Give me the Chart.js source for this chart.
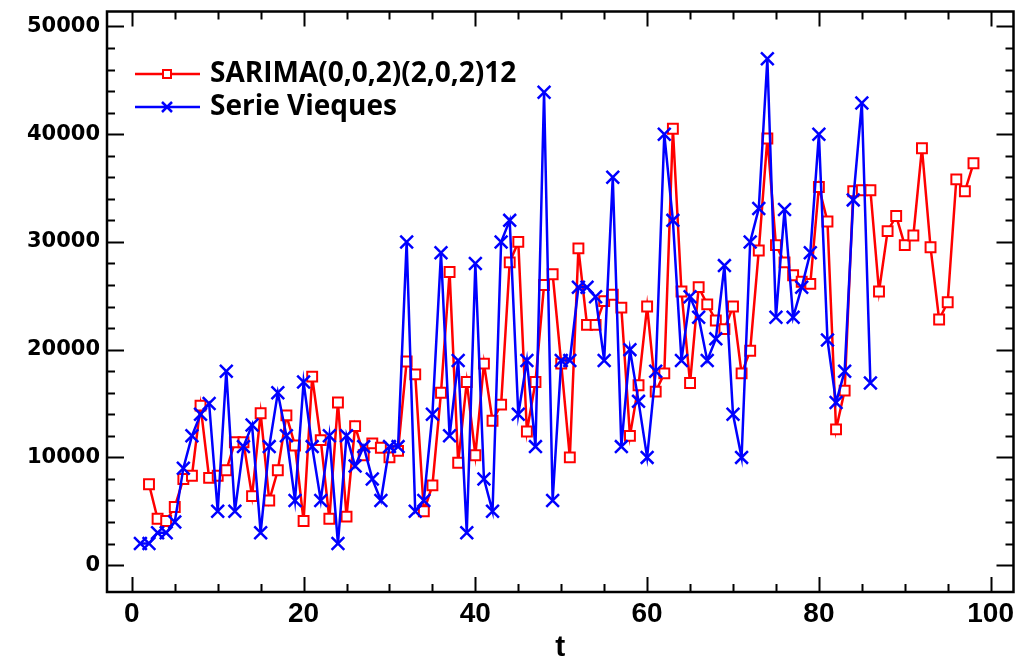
<!DOCTYPE html>
<html>
<head>
<meta charset="utf-8">
<title>SARIMA vs Serie Vieques</title>
<script src="https://cdn.jsdelivr.net/npm/chart.js@4/dist/chart.umd.min.js"></script>
<style>
  html, body { margin: 0; padding: 0; background: #fff; }
  #contenedor { width: 1025px; height: 666px; }
</style>
</head>
<body>
<div id="contenedor"><canvas id="grafico" width="1025" height="666"></canvas></div>
<script>
// serie ajustada, desde t = 2
const sarimaInicio = 2;
const sarima = [
  7500, 4300, 4100, 5400, 8000, 8300, 14800, 8100, 8300, 8800,
  11400, 11400, 6400, 14100, 6000, 8800, 13900, 11100, 4100, 17500,
  11600, 4300, 15100, 4500, 12900, 10200, 11300, 10900, 10000, 10600,
  18900, 17700, 5000, 7400, 16000, 27200, 9500, 17000, 10200, 18700,
  13400, 14900, 28100, 30000, 12400, 17000, 26000, 27000, 18700, 10000,
  29400, 22300, 22300, 24500, 25100, 23900, 12000, 16700, 24000, 16100,
  17800, 40500, 25400, 16900, 25800, 24200, 22700, 21900, 24000, 17800,
  19900, 29200, 39600, 29700, 28100, 26900, 26300, 26100, 35100, 31900,
  12600, 16200, 34700, 34800, 34800, 25400, 31000, 32400, 29700, 30600,
  38700, 29500, 22800, 24400, 35800, 34700, 37300
];

// serie observada, desde t = 1
const viequesInicio = 1;
const vieques = [
  2000, 2000, 3000, 3000, 4000, 9000, 12000, 14000, 15000, 5000,
  18000, 5000, 11000, 13000, 3000, 11000, 16000, 12000, 6000, 17000,
  11000, 6000, 12000, 2000, 12000, 9200, 11000, 8000, 6000, 11000,
  11000, 30000, 5000, 6000, 14000, 29000, 12000, 19000, 3000, 28000,
  8000, 5000, 30000, 32000, 14000, 19000, 11000, 43900, 6000, 19000,
  19000, 25800, 25800, 24900, 19000, 36000, 11000, 20000, 15200, 10000,
  18000, 40000, 32000, 19000, 24900, 23000, 19000, 21000, 27800, 14000,
  10000, 30000, 33100, 47000, 23000, 33000, 23000, 25800, 29000, 40000,
  20900, 15100, 18000, 33900, 42900, 16900
];

const ticksX = [0, 20, 40, 60, 80, 100];
const ticksY = [0, 10000, 20000, 30000, 40000, 50000];

const aPuntos = (inicio, valores) => valores.map((v, i) => ({ x: inicio + i, y: v }));

const ROJO = '#ff0000';
const AZUL = '#0000ff';

// marco negro con marcas hacia adentro en los cuatro lados
const marcoEjes = {
  id: 'marcoEjes',
  afterDraw(chart) {
    const { ctx, chartArea: a, scales: { x, y } } = chart;
    ctx.save();
    ctx.strokeStyle = '#000';
    ctx.lineWidth = 2;
    ctx.beginPath();
    for (let v = ticksX[0]; v <= ticksX[ticksX.length - 1]; v += 5) {
      const px = Math.round(x.getPixelForValue(v)) + 0.5;
      const largo = v % 20 === 0 ? 15 : 8;
      ctx.moveTo(px, a.bottom); ctx.lineTo(px, a.bottom - largo);
      ctx.moveTo(px, a.top); ctx.lineTo(px, a.top + largo);
    }
    for (let v = ticksY[0]; v <= ticksY[ticksY.length - 1]; v += 2000) {
      const py = Math.round(y.getPixelForValue(v)) + 0.5;
      const largo = v % 10000 === 0 ? 17 : 8;
      ctx.moveTo(a.left, py); ctx.lineTo(a.left + largo, py);
      ctx.moveTo(a.right, py); ctx.lineTo(a.right - largo, py);
    }
    ctx.stroke();
    ctx.lineWidth = 2.5;
    ctx.strokeRect(a.left, a.top, a.right - a.left, a.bottom - a.top);
    ctx.restore();
  }
};

// leyenda dentro del área, con trazo y marcador
const leyenda = {
  id: 'leyenda',
  afterDraw(chart) {
    const ctx = chart.ctx;
    const filas = [chart.data.datasets[0], chart.data.datasets[1]];
    ctx.save();
    filas.forEach((ds, i) => {
      const yc = 74 + i * 33;
      ctx.strokeStyle = ds.borderColor;
      ctx.lineWidth = 2.5;
      ctx.beginPath();
      ctx.moveTo(135, yc); ctx.lineTo(200, yc);
      ctx.stroke();
      const xc = 167;
      if (ds.pointStyle === 'rect') {
        ctx.lineWidth = 2;
        ctx.fillStyle = '#fff';
        ctx.fillRect(xc - 4, yc - 4, 8, 8);
        ctx.strokeRect(xc - 4, yc - 4, 8, 8);
      } else {
        ctx.beginPath();
        ctx.moveTo(xc - 5, yc - 5); ctx.lineTo(xc + 5, yc + 5);
        ctx.moveTo(xc + 5, yc - 5); ctx.lineTo(xc - 5, yc + 5);
        ctx.stroke();
      }
      ctx.fillStyle = '#000';
      ctx.font = 'bold 28px "Open Sans", sans-serif';
      ctx.textBaseline = 'middle';
      ctx.fillText(ds.label, 210, yc);
    });
    ctx.restore();
  }
};

// sin márgenes extra por las etiquetas de los extremos
const sinRelleno = s => {
  s.paddingTop = 0; s.paddingBottom = 0;
  s.paddingLeft = 0; s.paddingRight = 0;
};

document.addEventListener('DOMContentLoaded', () => {
  const ctx = document.getElementById('grafico').getContext('2d');
  new Chart(ctx, {
    type: 'line',
    data: {
      datasets: [{
        label: 'SARIMA(0,0,2)(2,0,2)12',
        data: aPuntos(sarimaInicio, sarima),
        borderColor: ROJO,
        borderWidth: 2.5,
        pointStyle: 'rect',
        pointRadius: 7,
        pointBorderWidth: 2,
        pointBorderColor: ROJO,
        pointBackgroundColor: '#fff',
        tension: 0,
        order: 2
      }, {
        label: 'Serie Vieques',
        data: aPuntos(viequesInicio, vieques),
        borderColor: AZUL,
        borderWidth: 2.5,
        pointStyle: 'crossRot',
        pointRadius: 9,
        pointBorderWidth: 2.5,
        pointBorderColor: AZUL,
        tension: 0,
        order: 1
      }]
    },
    options: {
      responsive: false,
      animation: false,
      devicePixelRatio: 1,
      layout: { padding: { top: 9, right: 6, left: 0, bottom: 0 } },
      plugins: {
        legend: { display: false },
        tooltip: { enabled: false }
      },
      scales: {
        x: {
          type: 'linear',
          min: -2.89,
          max: 102.66,
          grid: { display: false, drawTicks: false },
          border: { display: false },
          afterBuildTicks: s => { s.ticks = ticksX.map(v => ({ value: v })); },
          afterFit: s => { s.height = 74; sinRelleno(s); },
          ticks: {
            color: '#000',
            padding: 5,
            maxRotation: 0,
            font: { family: '"Liberation Sans Narrow", "Liberation Sans", sans-serif', weight: 'bold', size: 28 }
          },
          title: {
            display: true,
            text: 't',
            color: '#000',
            padding: { top: 0, bottom: 0 },
            font: { family: '"Liberation Sans Narrow", "Liberation Sans", sans-serif', weight: 'bold', size: 30 }
          }
        },
        y: {
          min: -2495,
          max: 51386,
          grid: { display: false, drawTicks: false },
          border: { display: false },
          afterBuildTicks: s => { s.ticks = ticksY.map(v => ({ value: v })); },
          afterFit: s => { s.width = 107; sinRelleno(s); },
          ticks: {
            color: '#000',
            padding: 7,
            callback: v => String(v),
            font: { family: '"DejaVu Sans", sans-serif', weight: 'bold', size: 21 }
          }
        }
      }
    },
    plugins: [marcoEjes, leyenda]
  });
});
</script>
</body>
</html>
